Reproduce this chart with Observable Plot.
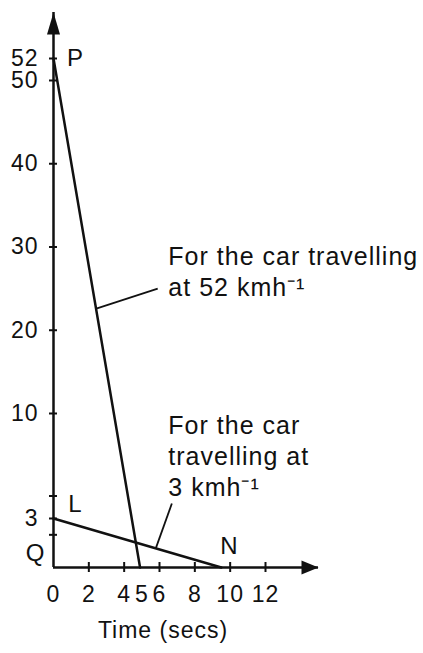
<!DOCTYPE html>
<html>
<head>
<meta charset="utf-8">
<script src="https://cdn.jsdelivr.net/npm/d3@7"></script>
<script src="https://cdn.jsdelivr.net/npm/@observablehq/plot@0.6"></script>
<style>
  html, body { margin: 0; padding: 0; background: #fff; }
</style>
</head>
<body>
<div id="chart"></div>
<script>
// Data
const car52 = [{time: 0, speed: 52}, {time: 4.9, speed: 0}];
const car3 = [{time: 0, speed: 3}, {time: 9.5, speed: 0}];
const yTickLabels = [3, 10, 20, 30, 40, 50, 52];
const yMinorTicks = [2, 4.5];
const xTickLabels = [0, 2, 4, 5, 6, 8, 10, 12];
const xTickMarks = [2, 4, 6, 8, 10, 12];
const pointLabels = ["P", "L", "N", "Q"];
const annotationTexts = ["For the car travelling\nat 52 kmh\u207B\u00B9", "For the car\ntravelling at\n3 kmh\u207B\u00B9"];
const annotationAnchors = [{time: 6.5, speed: 30.5}, {time: 6.5, speed: 10.2}];
const leaders = [
  {x1: 2.42, y1: 22.6, x2: 5.9, y2: 25.0},
  {x1: 5.8, y1: 1.2, x2: 6.7, y2: 4.0}
];
const xAxisTitle = "Time (secs)";
const axisEnd = {time: 15, speed: 56};
// the hand-drawn speed axis is broken: its breakpoints and their share of the axis
const speedBreaks = [0, 3, 10, 50, 52, 56];
const speedBreakShare = [0, 0.0883, 0.2775, 0.8775, 0.9171, 1];

const speedWarp = d3.scaleLinear().domain(speedBreaks).range(speedBreakShare.map(f => f * axisEnd.speed));

const ink = "#111";
const upArrow = {
  draw(ctx) { ctx.moveTo(0, 0); ctx.lineTo(6.5, 22); ctx.lineTo(-6.5, 22); ctx.closePath(); }
};
const rightArrow = {
  draw(ctx) { ctx.moveTo(0, 0); ctx.lineTo(7, 17); ctx.lineTo(-7, 17); ctx.closePath(); }
};

const chart = Plot.plot({
  width: 423,
  height: 653,
  marginLeft: 53,
  marginRight: 105,
  marginTop: 12,
  marginBottom: 86,
  style: {fontFamily: "'Liberation Sans', Arial, sans-serif", fontSize: "23px", color: ink, letterSpacing: "1px", background: "#fff"},
  x: {domain: [0, axisEnd.time]},
  y: {domain: [0, axisEnd.speed], transform: speedWarp, axis: null},
  marks: [
    // axes lines
    Plot.ruleX([0], {y1: 0, y2: axisEnd.speed, stroke: ink, strokeWidth: 2.5}),
    Plot.ruleY([0], {x1: 0, x2: axisEnd.time, stroke: ink, strokeWidth: 2.5}),
    Plot.dot([axisEnd], {x: 0, y: "speed", symbol: upArrow, fill: ink, stroke: "none"}),
    Plot.dot([axisEnd], {x: "time", y: 0, symbol: rightArrow, rotate: 90, fill: ink, stroke: "none"}),
    // tick marks
    Plot.ruleY([...yTickLabels, ...yMinorTicks], {y: d => d, x1: 0, x2: 0, insetLeft: -4, insetRight: -4, stroke: ink, strokeWidth: 2}),
    Plot.ruleX(xTickMarks, {x: d => d, y1: 0, y2: 0, insetTop: -5, insetBottom: -5, stroke: ink, strokeWidth: 2}),
    // axes labels
    Plot.text(yTickLabels, {x: 0, y: d => d, text: d => String(d), dx: -15, textAnchor: "end", fill: ink}),
    Plot.axisX({ticks: xTickLabels, tickSize: 0, tickPadding: 18, label: null, fill: ink}),
    Plot.text([xAxisTitle], {x: 6.2, frameAnchor: "bottom", dy: 70, text: d => d, fill: ink}),
    // lines
    Plot.line(car52, {x: "time", y: "speed", stroke: ink, strokeWidth: 2.5}),
    Plot.line(car3, {x: "time", y: "speed", stroke: ink, strokeWidth: 2.5}),
    // leader lines
    Plot.link(leaders, {x1: "x1", y1: "y1", x2: "x2", y2: "y2", stroke: ink, strokeWidth: 1.8}),
    // point labels
    Plot.text([pointLabels[0]], {x: car52[0].time, y: car52[0].speed, dx: 22, text: d => d, fill: ink, fontSize: 24}),
    Plot.text([pointLabels[1]], {x: car3[0].time, y: car3[0].speed, dx: 22, dy: -14, text: d => d, fill: ink, fontSize: 24}),
    Plot.text([pointLabels[2]], {x: car3[1].time, y: car3[1].speed, dx: 8, dy: -21, text: d => d, fill: ink, fontSize: 24}),
    Plot.text([pointLabels[3]], {x: 0, y: 0, dx: -18, dy: -14, text: d => d, fill: ink, fontSize: 24}),
    // annotations
    Plot.text(annotationTexts, {
      x: (d, i) => annotationAnchors[i].time,
      y: (d, i) => annotationAnchors[i].speed,
      text: d => d, textAnchor: "start", lineAnchor: "top", lineHeight: 1.24,
      fontSize: 25, fill: ink
    })
  ]
});
document.getElementById("chart").appendChild(chart);
</script>
</body>
</html>
